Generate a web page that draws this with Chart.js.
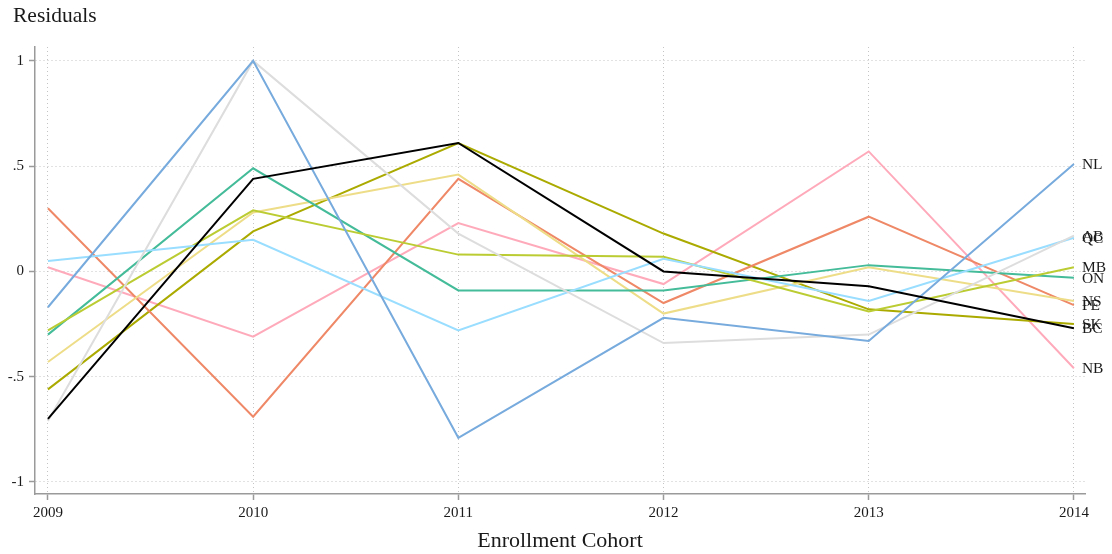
<!DOCTYPE html>
<html>
<head>
<meta charset="utf-8">
<script src="https://cdn.jsdelivr.net/npm/chart.js@4/dist/chart.umd.min.js"></script>
<style>
  html, body { margin: 0; padding: 0; background: #fff; }
  #wrap { width: 1112px; height: 554px; }
</style>
</head>
<body>
<div id="wrap"><canvas id="c" width="1112" height="554"></canvas></div>
<script>
// Enrollment cohorts on the x axis
const years = [2009, 2010, 2011, 2012, 2013, 2014];

// Residuals per province
const BC = [-0.70, 0.44, 0.61, 0.00, -0.07, -0.27];
const NL = [-0.17, 1.00, -0.79, -0.22, -0.33, 0.51];
const AB = [-0.71, 1.00, 0.18, -0.34, -0.30, 0.17];
const QC = [0.05, 0.15, -0.28, 0.06, -0.14, 0.16];
const MB = [-0.28, 0.29, 0.08, 0.07, -0.19, 0.02];
const ON = [-0.30, 0.49, -0.09, -0.09, 0.03, -0.03];
const NS = [-0.43, 0.28, 0.46, -0.20, 0.02, -0.14];
const PE = [0.30, -0.69, 0.44, -0.15, 0.26, -0.16];
const SK = [-0.56, 0.19, 0.61, 0.18, -0.18, -0.25];
const NB = [0.02, -0.31, 0.23, -0.06, 0.57, -0.46];

const provinces = ['BC', 'NL', 'AB', 'QC', 'MB', 'ON', 'NS', 'PE', 'SK', 'NB'];
const seriesValues = [BC, NL, AB, QC, MB, ON, NS, PE, SK, NB];
const seriesColors = ['#000000', '#77AADD', '#DDDDDD', '#99DDFF', '#BBCC33',
                      '#44BB99', '#EEDD88', '#EE8866', '#AAAA00', '#FFAABB'];

// y axis ticks and their printed labels
const yTickValues = [-1, -0.5, 0, 0.5, 1];
const yTickLabels = ['-1', '-.5', '0', '.5', '1'];

const SERIF = '"Liberation Serif", "Times New Roman", serif';
const TEXT = '#1a1a1a';
const GRID = '#c4c4c4';
const AXIS = '#9a9a9a';

const datasets = provinces.map((name, i) => ({
  label: name,
  data: years.map((yr, j) => ({ x: yr, y: seriesValues[i][j] })),
  borderColor: seriesColors[i],
  backgroundColor: seriesColors[i],
  borderWidth: 2,
  pointRadius: 0,
  tension: 0,
  fill: false
}));

// Province names at the end of each line
const endLabels = {
  id: 'endLabels',
  afterDatasetsDraw(chart) {
    const ctx = chart.ctx;
    const xs = chart.scales.x;
    const ys = chart.scales.y;
    ctx.save();
    ctx.font = '15.5px ' + SERIF;
    ctx.fillStyle = TEXT;
    ctx.textAlign = 'left';
    ctx.textBaseline = 'middle';
    chart.data.datasets.forEach(ds => {
      const last = ds.data[ds.data.length - 1];
      ctx.fillText(ds.label, xs.getPixelForValue(last.x) + 8, ys.getPixelForValue(last.y) + 1);
    });
    ctx.restore();
  }
};

// "Residuals" heading above the y axis
const yHeading = {
  id: 'yHeading',
  afterDraw(chart) {
    const ctx = chart.ctx;
    ctx.save();
    ctx.font = '21.5px ' + SERIF;
    ctx.fillStyle = TEXT;
    ctx.textAlign = 'left';
    ctx.textBaseline = 'middle';
    ctx.fillText('Residuals', 13, 16);
    ctx.restore();
  }
};

new Chart(document.getElementById('c'), {
  type: 'line',
  data: { datasets },
  plugins: [endLabels, yHeading],
  options: {
    responsive: false,
    animation: false,
    layout: { padding: { top: 47, right: 27, left: 0, bottom: 0 } },
    plugins: { legend: { display: false }, tooltip: { enabled: false }, title: { display: false } },
    scales: {
      x: {
        type: 'linear',
        min: 2008.937,
        max: 2014.054,
        afterBuildTicks: s => { s.ticks = years.map(v => ({ value: v })); },
        afterFit: s => { s.height = 60; },
        ticks: {
          font: { family: SERIF, size: 15 },
          color: TEXT,
          padding: 4,
          maxRotation: 0,
          autoSkip: false,
          callback: v => String(v)
        },
        grid: {
          color: GRID,
          lineWidth: 1,
          tickLength: 6,
          tickColor: AXIS,
          tickWidth: 1.5,
          tickBorderDash: []
        },
        border: { display: true, color: AXIS, width: 1.5, dash: [1, 3] },
        title: {
          display: true,
          text: 'Enrollment Cohort',
          font: { family: SERIF, size: 22 },
          color: TEXT,
          padding: { top: 0, bottom: 0 }
        }
      },
      y: {
        min: -1.057,
        max: 1.066,
        afterBuildTicks: s => { s.ticks = yTickValues.map(v => ({ value: v })); },
        afterFit: s => { s.width = 35; },
        ticks: {
          font: { family: SERIF, size: 15 },
          color: TEXT,
          padding: 5,
          callback: v => yTickLabels[yTickValues.indexOf(v)]
        },
        grid: {
          color: GRID,
          lineWidth: 1,
          tickLength: 6,
          tickColor: AXIS,
          tickWidth: 1.5,
          tickBorderDash: []
        },
        border: { display: true, color: AXIS, width: 1.5, dash: [1, 3] }
      }
    }
  }
});
</script>
</body>
</html>
